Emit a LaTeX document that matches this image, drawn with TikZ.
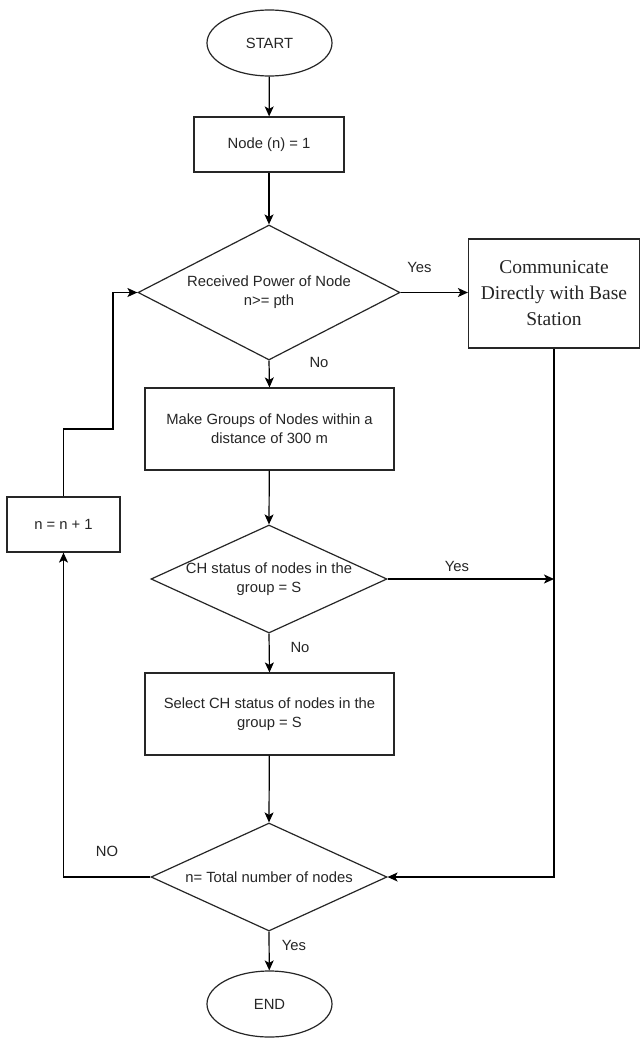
\documentclass[tikz,border=0pt]{standalone}
\usepackage{fontspec}
\setmainfont{Liberation Sans}
\newfontfamily\serifbox{Liberation Serif}
\usetikzlibrary{shapes.geometric,arrows.meta}
\tikzset{
  base/.style={draw=black!85, line width=1.2pt, inner sep=0pt, text=black!85,
    font=\fontsize{14.8}{19}\selectfont, align=center},
  terminal/.style={base, ellipse, minimum width=125pt, minimum height=66pt},
  procbox/.style={base, rectangle},
  decision/.style={draw=black!85, line width=1.2pt, diamond, inner sep=0pt},
  txt/.style={text=black!85, font=\fontsize{14.8}{19}\selectfont, align=center, inner sep=0pt},
  conn/.style={draw=black, line width=1.2pt},
  arr/.style={conn, -{Stealth[length=10pt,width=9pt,inset=2.5pt]}}
}
\begin{document}
\begin{tikzpicture}[x=1pt,y=-1pt]
\useasboundingbox (0,0) rectangle (640,1039);
\fill[white] (0,0) rectangle (640,1039);

\node[terminal] (start) at (269.5,43) {START};
\node[procbox, minimum width=150pt, minimum height=55pt] (n1) at (269,144.5) {Node (n) = 1};
\node[decision, minimum width=262pt, minimum height=135pt] (d1) at (269,292.5) {};
\node[txt] (d1t) at (d1) {Received Power of Node\\n>= pth};
\node[procbox, minimum width=171pt, minimum height=109pt, font=\serifbox\fontsize{19.5}{26}\selectfont] (comm) at (554,293.5) {Communicate\\Directly with Base\\Station};
\node[procbox, minimum width=249pt, minimum height=82pt] (g) at (269.5,429) {Make Groups of Nodes within a\\distance of 300 m};
\node[decision, minimum width=236pt, minimum height=108pt] (d2) at (269,579) {};
\node[txt] (d2t) at (d2) {CH status of nodes in the\\group = S};
\node[procbox, minimum width=249pt, minimum height=82pt] (s) at (269.5,714) {Select CH status of nodes in the\\group = S};
\node[decision, minimum width=236pt, minimum height=108pt] (d3) at (269,877) {};
\node[txt] (d3t) at (d3) {n= Total number of nodes};
\node[terminal] (end) at (269.5,1004) {END};
\node[procbox, minimum width=113pt, minimum height=55pt] (inc) at (63.5,524.5) {n = n + 1};

\node[txt] (l1) at (419.5,267) {Yes};
\node[txt] (l2) at (319,362) {No};
\node[txt] (l3) at (457,566) {Yes};
\node[txt] (l4) at (300,647) {No};
\node[txt] (l5) at (107,851) {NO};
\node[txt] (l6) at (294,945) {Yes};

\coordinate (j2) at (comm.south |- d2.east);
\coordinate (lp1) at (inc.north |- 0,429);
\coordinate (lp2) at (113,429);
\coordinate (lp3) at (d1.west -| lp2);

\draw[arr] (start) -- (n1);
\draw[arr] (n1) -- (d1.north);
\draw[arr] (d1.east) -- (d1.east -| comm.west);
\draw[arr] (d1.south) -- (g.north);
\draw[arr] (g) -- (d2.north);
\draw[arr] (d2.east) -- (j2);
\draw[conn] (comm.south) -- (j2);
\draw[arr] (j2) -- (comm.south |- d3.east) -- (d3.east);
\draw[arr] (d2.south) -- (s.north);
\draw[arr] (s) -- (d3.north);
\draw[arr] (d3.south) -- (end);
\draw[arr] (d3.west) -- (d3.west -| inc.south) -- (inc.south);
\draw[arr] (inc.north) -- (lp1) -- (lp2) -- (lp3) -- (d1.west);
\end{tikzpicture}
\end{document}
